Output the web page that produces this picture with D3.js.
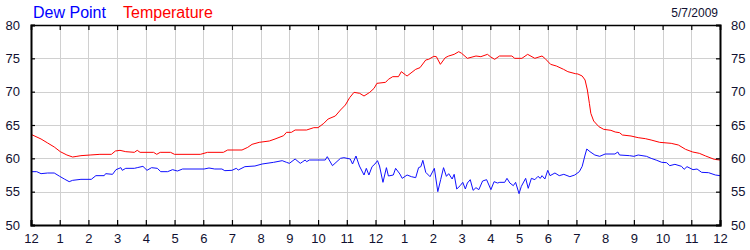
<!DOCTYPE html>
<html>
<head>
<meta charset="utf-8">
<script src="https://cdn.jsdelivr.net/npm/d3@7"></script>
<style>
html,body{margin:0;padding:0;background:#fff;}
svg{display:block;font-family:Arial,"Liberation Sans",sans-serif;}
</style>
</head>
<body>
<svg id="chart" width="750" height="250"></svg>
<script>
const dateLabel = "5/7/2009";
const legendLabels = ["Dew Point", "Temperature"];
const hourTickLabels = ["12","1","2","3","4","5","6","7","8","9","10","11","12","1","2","3","4","5","6","7","8","9","10","11","12"];
const yTicks = [50,55,60,65,70,75,80];

const tempHours = [0,0.35,0.58,0.81,1.02,1.25,1.45,1.6,1.74,2.06,2.4,2.8,2.94,3.1,3.3,3.6,3.7,3.8,4.27,4.38,4.5,4.86,5.0,5.9,6.15,6.7,6.85,7.35,7.55,7.7,7.95,8.3,8.5,8.8,8.9,9.07,9.2,9.6,9.85,10.0,10.2,10.35,10.6,10.78,10.95,11.1,11.25,11.45,11.6,11.8,11.95,12.05,12.35,12.45,12.6,12.8,12.9,13.05,13.1,13.4,13.55,13.75,13.85,14.03,14.12,14.26,14.43,14.55,14.74,14.9,15.0,15.2,15.5,15.67,15.9,16.0,16.15,16.32,16.75,16.85,17.1,17.3,17.55,17.8,17.9,18.1,18.3,18.55,18.7,18.96,19.05,19.2,19.3,19.38,19.45,19.5,19.6,19.78,19.95,20.2,20.35,20.5,20.6,20.9,21.15,21.4,21.6,21.9,22.3,22.55,22.8,23.05,23.28,23.5,23.8,24.0];
const tempValues = [63.6,62.9,62.3,61.7,61.0,60.5,60.2,60.3,60.4,60.5,60.6,60.6,61.1,61.2,61.0,60.9,61.2,60.9,60.9,60.6,60.9,60.9,60.6,60.6,60.9,60.9,61.25,61.25,61.65,62.1,62.4,62.6,62.9,63.4,63.9,63.9,64.25,64.25,64.6,64.6,65.25,65.9,66.35,67.25,68.0,69.1,69.9,69.75,69.35,69.9,70.5,71.25,71.4,71.85,72.25,72.25,73.0,72.5,72.35,73.35,73.6,74.75,74.85,75.3,75.25,74.1,75.1,75.35,75.6,76.0,75.75,75.0,75.35,75.25,75.6,75.25,74.85,75.35,75.35,75.0,75.0,75.6,75.0,75.35,75.0,74.1,73.85,73.35,73.0,72.7,72.65,72.35,71.75,70.25,68.25,66.75,65.6,64.75,64.35,64.2,63.95,63.85,63.5,63.35,63.1,62.95,62.75,62.4,62.25,62.0,61.35,60.95,60.75,60.35,59.85,59.75];

const dewHours = [0,0.2,0.35,0.58,0.81,1.0,1.16,1.33,1.45,1.74,2.1,2.26,2.55,2.6,2.84,2.96,3.13,3.18,3.3,3.6,3.7,3.9,4.04,4.2,4.4,4.52,4.76,4.93,5.1,5.28,6.03,6.2,6.4,6.65,6.75,7.0,7.15,7.22,7.45,7.8,8.05,8.45,8.75,8.9,9.0,9.2,9.38,9.45,9.55,9.6,9.7,10.25,10.32,10.5,10.78,10.9,11.12,11.2,11.32,11.44,11.6,11.68,11.77,11.88,11.98,12.07,12.14,12.26,12.38,12.45,12.62,12.7,12.85,12.93,13.1,13.25,13.4,13.5,13.58,13.65,13.75,13.9,14.05,14.17,14.27,14.37,14.47,14.55,14.67,14.74,14.83,14.95,15.04,15.13,15.2,15.3,15.4,15.5,15.6,15.73,15.87,16.02,16.13,16.25,16.33,16.5,16.58,16.68,16.8,16.88,17.0,17.08,17.23,17.32,17.43,17.55,17.66,17.74,17.8,17.9,18.0,18.08,18.25,18.4,18.56,18.77,18.94,19.1,19.2,19.3,19.36,19.47,19.64,19.81,20.0,20.34,20.44,20.5,20.85,21.0,21.15,21.44,21.6,21.8,21.97,22.14,22.25,22.43,22.66,22.75,22.85,23.06,23.2,23.36,23.6,23.84,24.0];
const dewValues = [58.0,58.0,57.7,57.8,57.8,57.3,56.9,56.5,56.7,56.85,56.85,57.4,57.4,57.7,57.6,58.3,58.6,58.2,58.5,58.5,58.6,58.8,58.2,58.6,58.5,58.0,58.0,58.3,58.1,58.4,58.4,58.55,58.4,58.4,58.15,58.2,58.5,58.25,58.75,58.85,59.15,59.4,59.65,59.4,59.25,59.9,59.25,59.45,59.75,59.5,59.75,59.75,60.25,58.9,60.0,60.1,59.9,59.15,60.35,58.85,57.5,58.5,57.5,58.75,59.15,59.65,58.85,56.4,58.6,57.35,57.5,58.5,57.65,57.0,57.5,57.25,57.1,58.6,58.75,59.7,57.9,57.25,58.5,55.0,56.8,58.6,57.3,57.7,56.9,57.6,55.4,55.9,56.4,55.4,56.3,56.8,55.2,55.6,55.3,56.6,56.8,55.3,56.5,56.3,56.4,56.4,57.0,56.3,55.9,56.4,54.7,55.8,57.0,55.5,57.0,56.8,57.3,57.0,57.4,56.9,58.2,57.4,57.8,57.4,57.6,57.25,57.5,58.0,58.8,60.5,61.4,61.0,60.5,60.3,60.65,60.65,60.95,60.5,60.4,60.3,60.5,60.3,60.0,59.7,59.4,59.35,58.9,59.1,58.8,58.35,58.75,58.3,58.4,57.9,57.85,57.5,57.4];

const svg = d3.select("#chart");
const L = 31, R = 720, T = 25, B = 225;
const textColor = "#101030";

const x = d3.scaleLinear().domain([0, 24]).range([L, R]);
const y = d3.scaleLinear().domain([50, 80]).range([B, T]);
const hourTicks = d3.range(0, 25);

// grid
const grid = svg.append("g");
grid.selectAll("line.v").data(hourTicks.slice(1, -1)).enter().append("line")
  .attr("x1", d => Math.round(x(d)) + 0.5).attr("x2", d => Math.round(x(d)) + 0.5)
  .attr("y1", T).attr("y2", B).attr("stroke", "#d0d0d0").attr("stroke-width", 1);
grid.selectAll("line.h").data(yTicks.slice(1, -1)).enter().append("line")
  .attr("y1", d => Math.round(y(d)) + 0.5).attr("y2", d => Math.round(y(d)) + 0.5)
  .attr("x1", L).attr("x2", R).attr("stroke", "#d0d0d0").attr("stroke-width", 1);

// lines
const lineGen = d3.line().x(d => x(d[0])).y(d => y(d[1]));
svg.append("path").datum(dewHours.map((h, i) => [h, dewValues[i]]))
  .attr("d", lineGen).attr("fill", "none").attr("stroke", "#1010ff").attr("stroke-width", 1);
svg.append("path").datum(tempHours.map((h, i) => [h, tempValues[i]]))
  .attr("d", lineGen).attr("fill", "none").attr("stroke", "#ff0000").attr("stroke-width", 1);

// axes (inward ticks on all sides)
const xAxisB = d3.axisBottom(x).tickValues(hourTicks).tickSize(-5).tickPadding(9)
  .tickFormat((d, i) => hourTickLabels[i]);
const gB = svg.append("g").attr("transform", `translate(0,${B})`).call(xAxisB);
const xAxisT = d3.axisTop(x).tickValues(hourTicks).tickSize(-5).tickFormat("");
const gT = svg.append("g").attr("transform", `translate(0,${T})`).call(xAxisT);
const yAxisL = d3.axisLeft(y).tickValues(yTicks).tickSize(-4).tickPadding(11);
const gL = svg.append("g").attr("transform", `translate(${L},0)`).call(yAxisL);
const yAxisR = d3.axisRight(y).tickValues(yTicks).tickSize(-4).tickPadding(11);
const gR = svg.append("g").attr("transform", `translate(${R},0)`).call(yAxisR);

[gB, gT, gL, gR].forEach(g => {
  g.select(".domain").attr("stroke", "#000").attr("stroke-width", 2);
  g.selectAll(".tick line").attr("stroke", "#000").attr("stroke-width", 1.2);
  g.selectAll("text").attr("fill", textColor).style("font-size", "13px")
    .style("font-family", "Arial, 'Liberation Sans', sans-serif");
});
gT.select(".domain").attr("stroke-width", 1.5);

// legend
svg.append("text").attr("x", 33).attr("y", 18).attr("fill", "#0000ff")
  .style("font-size", "16px").text(legendLabels[0]);
svg.append("text").attr("x", 123).attr("y", 18).attr("fill", "#ff0000")
  .style("font-size", "16px").text(legendLabels[1]);
svg.append("text").attr("x", 718).attr("y", 17).attr("text-anchor", "end").attr("fill", textColor)
  .style("font-size", "12px").text(dateLabel);
</script>
</body>
</html>
